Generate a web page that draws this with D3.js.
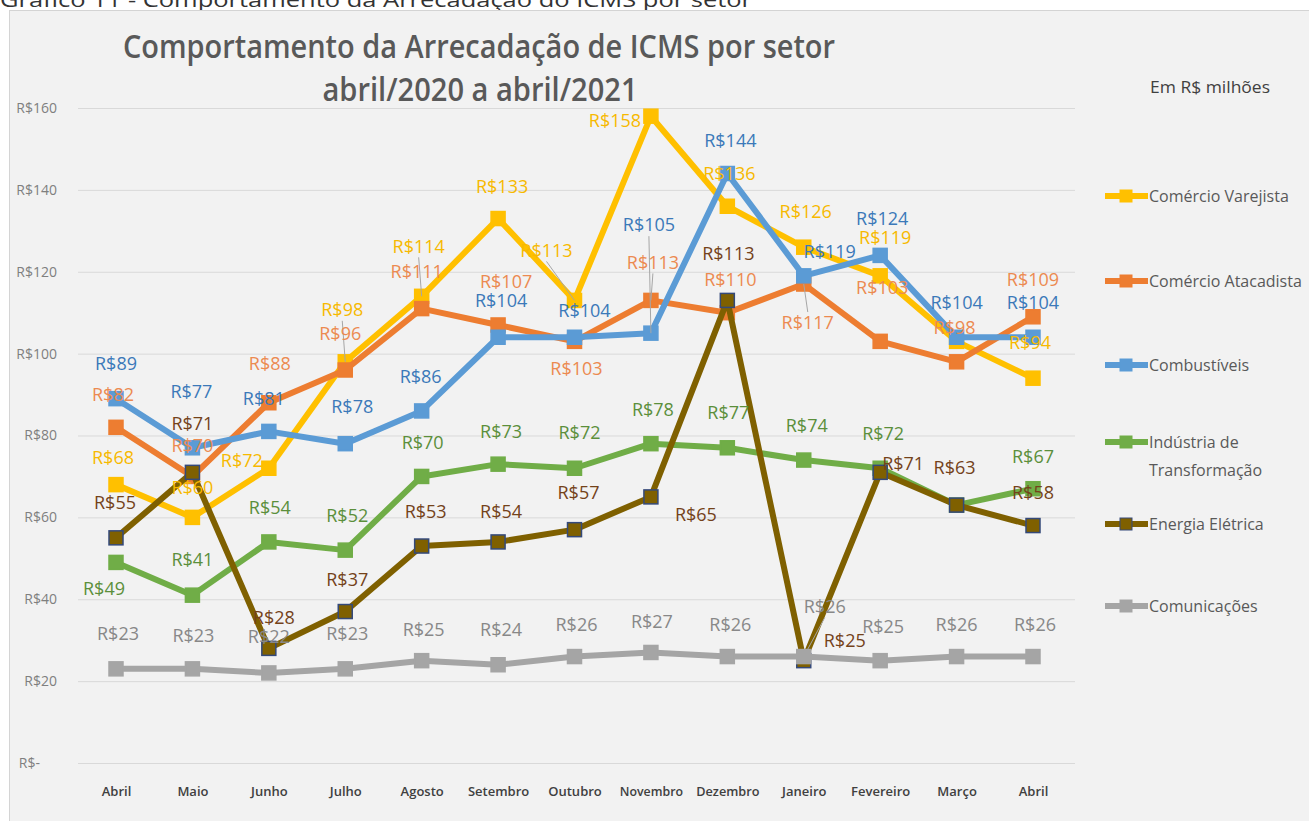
<!DOCTYPE html>
<html>
<head>
<meta charset="utf-8">
<script src="https://cdn.jsdelivr.net/npm/d3@7"></script>
<style>
  body { margin: 0; background: #fff; }
  text { font-family: "Open Sans", "Noto Sans", sans-serif; }
</style>
</head>
<body>
<script>
// data (R$ milhões)
var months = ['Abril', 'Maio', 'Junho', 'Julho', 'Agosto', 'Setembro', 'Outubro',
              'Novembro', 'Dezembro', 'Janeiro', 'Fevereiro', 'Março', 'Abril'];

var comercioVarejista   = [68, 60, 72, 98, 114, 133, 113, 158, 136, 126, 119, 103, 94];
var comercioAtacadista  = [82, 70, 88, 96, 111, 107, 103, 113, 110, 117, 103, 98, 109];
var combustiveis        = [89, 77, 81, 78, 86, 104, 104, 105, 144, 119, 124, 104, 104];
var industria           = [49, 41, 54, 52, 70, 73, 72, 78, 77, 74, 72, 63, 67];
var energiaEletrica     = [55, 71, 28, 37, 53, 54, 57, 65, 113, 25, 71, 63, 58];
var comunicacoes        = [23, 23, 22, 23, 25, 24, 26, 27, 26, 26, 25, 26, 26];

var seriesNames = ['Comércio Varejista', 'Comércio Atacadista', 'Combustíveis',
                   'Indústria de Transformação', 'Energia Elétrica', 'Comunicações'];

var yTicks = [0, 20, 40, 60, 80, 100, 120, 140, 160];

var width = 1309;
var height = 821;

// colours: line, marker fill, marker edge, label text
var styles = [
  {line: '#ffc000', fill: '#ffc000', edge: '#ffc000', text: '#f7b900'},
  {line: '#ed7d31', fill: '#ed7d31', edge: '#ed7d31', text: '#ec8a50'},
  {line: '#5b9bd5', fill: '#5b9bd5', edge: '#5b9bd5', text: '#3b79b9'},
  {line: '#70ad47', fill: '#70ad47', edge: '#70ad47', text: '#5b8f3b'},
  {line: '#7f6000', fill: '#7f6000', edge: '#34497a', text: '#74421a'},
  {line: '#a5a5a5', fill: '#a5a5a5', edge: '#a5a5a5', text: '#888888'}
];

// where each data label sits, relative to its marker [dx, dy]; null = label hidden under another
var labelOffsets = [
  [[-3,-27],[0,-30],[-27,-8],[-3,-52],[-3,-50],[4,-32],[-28,-50],[-36,5],[2,-33],[2,-35],[5,-38],null,[-3,-35]],
  [[-3,-33],[0,-31],[1,-39],[-5,-36],[-5,-37],[8,-43],[2,27],[2,-38],[3,-33],[4,39],[2,-54],[-2,-34],[0,-37]],
  [[0,-35],[-1,-56],[-5,-33],[7,-37],[-1,-34],[3,-37],[10,-27],[-2,-108],[3,-33],[26,-24],[2,-37],[0,-35],[0,-35]],
  [[-12,26],[0,-35],[1,-34],[2,-34],[1,-34],[3,-32],[5,-36],[2,-34],[1,-35],[3,-34],[3,-35],null,[0,-32]],
  [[-1,-35],[0,-49],[5,-31],[2,-32],[4,-34],[3,-30],[4,-37],[45,18],[1,-47],[41,-20],[23,-9],[-2,-37],[0,-33]],
  [[2,-35],[1,-33],[0,-36],[2,-35],[2,-31],[3,-35],[2,-32],[1,-31],[3,-32],[21,-50],[3,-34],[0,-32],[2,-32]]
];
// labels that got a leader line back to their point
var leaders = [[0, 3], [0, 4], [0, 6], [2, 7], [1, 7], [1, 9], [5, 9]];

var allSeries = [comercioVarejista, comercioAtacadista, combustiveis,
                 industria, energiaEletrica, comunicacoes];

var svg = d3.select('body')
            .append('svg')
            .attr('width', width)
            .attr('height', height);

// caption of the page above the chart, cut off at the top
svg.append('text')
   .attr('x', 0)
   .attr('y', 7)
   .attr('font-size', 20)
   .attr('fill', '#333')
   .attr('textLength', 752)
   .attr('lengthAdjust', 'spacingAndGlyphs')
   .text('Gráfico 11 - Comportamento da Arrecadação do ICMS por setor');

// chart area
svg.append('rect')
   .attr('x', 9.5)
   .attr('y', 10.5)
   .attr('width', width)
   .attr('height', height)
   .attr('fill', '#f2f2f2')
   .attr('stroke', '#d4d4d4');

var x = d3.scalePoint()
          .domain(d3.range(months.length))
          .range([116, 1033]);

var y = d3.scaleLinear()
          .domain([0, 160])
          .range([763, 108]);

var plotLeft = 78;
var plotRight = 1075;

// y axis with gridlines
var yAxis = svg.append('g')
               .attr('transform', 'translate(' + plotLeft + ',0)')
               .call(d3.axisLeft(y)
                       .tickValues(yTicks)
                       .tickSize(-(plotRight - plotLeft))
                       .tickPadding(21)
                       .tickFormat(function(d) {
                         return d === 0 ? 'R$-' : 'R$' + d;
                       }));
yAxis.select('.domain').remove();
yAxis.selectAll('line').attr('stroke', '#d9d9d9');
yAxis.selectAll('text')
     .attr('font-size', 14)
     .attr('fill', '#7f7f7f')
     .attr('font-family', '"Open Sans", sans-serif')
     .attr('dx', function(d) { return d === 0 ? -17 : 0; });

// x axis
var xAxis = svg.append('g')
               .attr('transform', 'translate(0,' + y(0) + ')')
               .call(d3.axisBottom(x)
                       .tickSize(0)
                       .tickPadding(24)
                       .tickFormat(function(i) { return months[i]; }));
xAxis.select('.domain').remove();
xAxis.selectAll('text')
     .attr('font-size', 13)
     .attr('font-weight', 600)
     .attr('fill', '#404040')
     .attr('font-family', '"Open Sans", sans-serif')
     .each(function(i) {
       var w = this.getComputedTextLength();
       var target = months[i].length * 7.9;
       if (w > target) {
         d3.select(this).attr('textLength', target).attr('lengthAdjust', 'spacingAndGlyphs');
       }
     });

// titles
svg.append('text')
   .attr('x', 479)
   .attr('y', 58)
   .attr('text-anchor', 'middle')
   .attr('font-size', 33)
   .attr('font-weight', 600)
   .attr('fill', '#595959')
   .attr('textLength', 712)
   .attr('lengthAdjust', 'spacingAndGlyphs')
   .text('Comportamento da Arrecadação de ICMS por setor');

svg.append('text')
   .attr('x', 480)
   .attr('y', 101)
   .attr('text-anchor', 'middle')
   .attr('font-size', 33)
   .attr('font-weight', 600)
   .attr('fill', '#595959')
   .attr('textLength', 315)
   .attr('lengthAdjust', 'spacingAndGlyphs')
   .text('abril/2020 a abril/2021');

svg.append('text')
   .attr('x', 1210)
   .attr('y', 93)
   .attr('text-anchor', 'middle')
   .attr('font-size', 16)
   .attr('fill', '#404040')
   .attr('textLength', 120)
   .attr('lengthAdjust', 'spacingAndGlyphs')
   .text('Em R$ milhões');

// lines and markers
var line = d3.line()
             .x(function(d, i) { return x(i); })
             .y(function(d) { return y(d); });

var series = svg.selectAll('.series')
                .data(allSeries)
                .enter()
                .append('g')
                .attr('class', 'series');

series.append('path')
      .attr('d', line)
      .attr('fill', 'none')
      .attr('stroke', function(d, s) { return styles[s].line; })
      .attr('stroke-width', 6)
      .attr('stroke-linejoin', 'round');

series.each(function(values, s) {
  d3.select(this).selectAll('rect')
    .data(values)
    .enter()
    .append('rect')
    .attr('x', function(d, i) { return x(i) - 7; })
    .attr('y', function(d) { return y(d) - 7; })
    .attr('width', 14)
    .attr('height', 14)
    .attr('fill', styles[s].fill)
    .attr('stroke', styles[s].edge)
    .attr('stroke-width', 1.5);
});

// leader lines
svg.selectAll('.leader')
   .data(leaders)
   .enter()
   .append('line')
   .attr('class', 'leader')
   .attr('x1', function(d) { return x(d[1]) + labelOffsets[d[0]][d[1]][0]; })
   .attr('y1', function(d) {
     var dy = labelOffsets[d[0]][d[1]][1];
     return y(allSeries[d[0]][d[1]]) + dy + (dy < 0 ? 11 : -11);
   })
   .attr('x2', function(d) { return x(d[1]); })
   .attr('y2', function(d) { return y(allSeries[d[0]][d[1]]); })
   .attr('stroke', '#a6a6a6')
   .attr('stroke-width', 1);

// data labels
allSeries.forEach(function(values, s) {
  var shown = values.map(function(v, i) { return {v: v, i: i}; })
                    .filter(function(d) { return labelOffsets[s][d.i]; });
  svg.append('g')
     .selectAll('text')
     .data(shown)
     .enter()
     .append('text')
     .attr('x', function(d) { return x(d.i) + labelOffsets[s][d.i][0]; })
     .attr('y', function(d) { return y(d.v) + labelOffsets[s][d.i][1]; })
     .attr('dy', '0.35em')
     .attr('text-anchor', 'middle')
     .attr('font-size', 18)
     .attr('fill', styles[s].text)
     .text(function(d) { return 'R$' + d.v; });
});

// legend
var legendY = [196, 281, 365, 442, 524, 606];

var legend = svg.selectAll('.legend')
                .data(seriesNames)
                .enter()
                .append('g')
                .attr('class', 'legend')
                .attr('transform', function(d, i) {
                  return 'translate(1105,' + legendY[i] + ')';
                });

legend.append('line')
      .attr('x1', 0)
      .attr('x2', 43)
      .attr('stroke', function(d, i) { return styles[i].line; })
      .attr('stroke-width', 6);

legend.append('rect')
      .attr('x', 15)
      .attr('y', -6)
      .attr('width', 12)
      .attr('height', 12)
      .attr('fill', function(d, i) { return styles[i].fill; })
      .attr('stroke', function(d, i) { return styles[i].edge; });

legend.append('text')
      .attr('x', 44)
      .attr('font-size', 16)
      .attr('fill', '#595959')
      .each(function(d) {
        var words = d === 'Indústria de Transformação' ? ['Indústria de', 'Transformação'] : [d];
        var t = d3.select(this);
        words.forEach(function(w, k) {
          t.append('tspan')
           .attr('x', 44)
           .attr('dy', k === 0 ? '0.35em' : 28)
           .text(w);
        });
      });
</script>
</body>
</html>
